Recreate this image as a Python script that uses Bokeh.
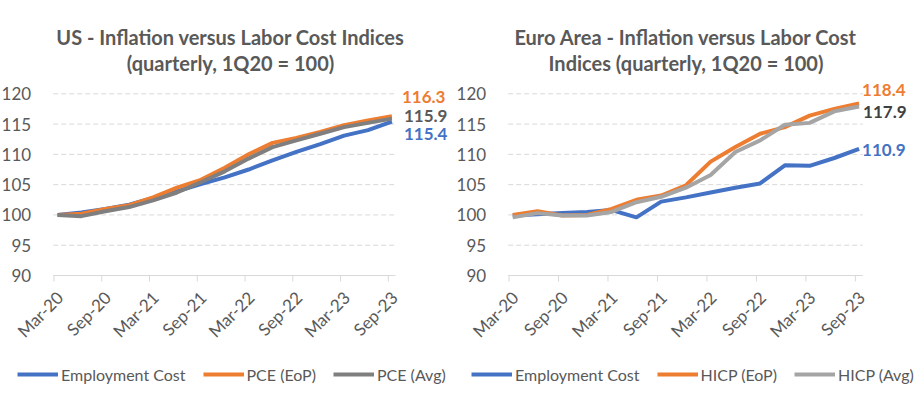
import math
from bokeh.plotting import figure
from bokeh.models import Range1d, FixedTicker, Label, Legend, LegendItem
from bokeh.layouts import row
from bokeh.embed import file_html
from bokeh.resources import INLINE

# ---------------- data ----------------
quarters = ["Mar-20", "Jun-20", "Sep-20", "Dec-20", "Mar-21", "Jun-21", "Sep-21", "Dec-21",
            "Mar-22", "Jun-22", "Sep-22", "Dec-22", "Mar-23", "Jun-23", "Sep-23"]
tick_labels = ["Mar-20", "Sep-20", "Mar-21", "Sep-21", "Mar-22", "Sep-22", "Mar-23", "Sep-23"]
y_ticks = [90, 95, 100, 105, 110, 115, 120]

us_employment_cost = [100.0, 100.4, 101.0, 101.7, 102.8, 103.9, 105.1, 106.2, 107.5, 109.0,
                      110.4, 111.7, 113.1, 114.0, 115.4]
us_pce_eop = [100.0, 100.2, 101.0, 101.6, 102.9, 104.5, 105.8, 107.8, 110.0, 111.9,
              112.7, 113.7, 114.8, 115.6, 116.3]
us_pce_avg = [100.0, 99.8, 100.6, 101.3, 102.4, 103.7, 105.4, 107.2, 109.3, 111.2,
              112.3, 113.4, 114.5, 115.2, 115.9]

ea_employment_cost = [99.9, 100.1, 100.3, 100.5, 100.8, 99.6, 102.2, 102.9, 103.7, 104.5,
                      105.2, 108.2, 108.1, 109.4, 110.9]
ea_hicp_eop = [100.0, 100.6, 99.9, 100.0, 101.0, 102.5, 103.2, 104.9, 108.8, 111.2,
               113.4, 114.5, 116.4, 117.5, 118.4]
ea_hicp_avg = [99.6, 100.3, 99.9, 99.9, 100.5, 102.1, 103.0, 104.5, 106.6, 110.4,
               112.3, 114.9, 115.2, 117.1, 117.9]

BLUE = "#4472C4"
ORANGE = "#ED7D31"
GRAY_DARK = "#7F7F7F"
GRAY_LIGHT = "#A5A5A5"
TEXT = "#595959"
GRID = "#D9D9D9"
FONT = "Lato"

HEIGHT = 398
PAGE_TOP = 0
AXIS_TOP_PAGE = 93.3      # page y of the 120 line
AXIS_BOTTOM_PAGE = 275.0  # page y of the 90 line
TICK_LEN_PX = 6
LABEL_SHIFT = 0.75        # rotated tick labels sit slightly right of their tick


def make_panel(fig_left_page, width, axis_start_page, axis_end_page, title1, title2,
               title_cx_page, series, end_offsets, legend_left_page):
    ax0 = -0.1                      # x value at the start of the category axis
    axis_end = 42.9                 # x value at the end of the category axis
    ppx = (axis_end_page - axis_start_page) / (axis_end - ax0)
    ppy = (AXIS_BOTTOM_PAGE - AXIS_TOP_PAGE) / (y_ticks[-1] - y_ticks[0])

    def xp(page_x):
        return ax0 + (page_x - axis_start_page) / ppx

    def yp(page_y):
        return y_ticks[-1] - (page_y - AXIS_TOP_PAGE) / ppy

    x_lo, x_hi = xp(fig_left_page), xp(fig_left_page + width)
    y_hi, y_lo = yp(PAGE_TOP), yp(PAGE_TOP + HEIGHT)

    p = figure(width=width, height=HEIGHT, output_backend="svg", toolbar_location=None,
               x_range=Range1d(x_lo, x_hi), y_range=Range1d(y_lo, y_hi), title=None,
               min_border_left=0, min_border_right=0, min_border_top=0, min_border_bottom=0)
    p.outline_line_color = None
    p.background_fill_color = "white"
    p.border_fill_color = "white"

    # x axis: line and tick marks, then the rotated labels
    tick_pos = [quarters.index(t) * 3 for t in tick_labels]
    base = y_ticks[0]
    p.segment(x0=[ax0], y0=[base], x1=[axis_end], y1=[base], line_color=GRID, line_width=1)
    p.segment(x0=tick_pos, y0=[base] * len(tick_pos), x1=tick_pos,
              y1=[base - TICK_LEN_PX / ppy] * len(tick_pos), line_color=GRID, line_width=1)

    lab_pos = [t + LABEL_SHIFT for t in tick_pos]
    p.xaxis.fixed_location = base
    p.xaxis.ticker = FixedTicker(ticks=lab_pos)
    p.xaxis.major_label_overrides = {lp: lab for lp, lab in zip(lab_pos, tick_labels)}
    p.xaxis.major_label_orientation = math.pi / 4
    p.xaxis.axis_line_color = None
    p.xaxis.major_tick_line_color = None
    p.xaxis.minor_tick_line_color = None
    p.xaxis.major_label_text_font = FONT
    p.xaxis.major_label_text_font_size = "17px"
    p.xaxis.major_label_text_color = TEXT
    p.xaxis.major_label_standoff = 13

    # y axis
    p.yaxis.fixed_location = ax0
    p.yaxis.ticker = FixedTicker(ticks=y_ticks)
    p.yaxis.axis_line_color = None
    p.yaxis.major_tick_line_color = None
    p.yaxis.minor_tick_line_color = None
    p.yaxis.major_label_text_font = FONT
    p.yaxis.major_label_text_font_size = "17px"
    p.yaxis.major_label_text_color = TEXT
    p.yaxis.major_label_standoff = 16

    p.xgrid.grid_line_color = None
    p.ygrid.grid_line_color = None
    gy = y_ticks[1:]
    p.segment(x0=[ax0] * len(gy), y0=gy, x1=[axis_end] * len(gy), y1=gy,
              line_color=GRID, line_width=1, line_dash="5 3")

    xs = [quarters.index(q) * 3 + 0.45 for q in quarters]
    items = []
    for (name, vals, color, lab_color), off in zip(series, end_offsets):
        r = p.line(xs, vals, line_color=color, line_width=4, line_join="round")
        items.append(LegendItem(label=name, renderers=[r]))
        p.add_layout(Label(x=xs[-1], y=vals[-1], text=f"{vals[-1]:.1f}",
                           x_offset=off[0], y_offset=off[1],
                           text_font=FONT, text_font_size="17px", text_font_style="bold",
                           text_color=lab_color, text_baseline="middle", text_align="left"))

    # two-line title
    for txt, base_page in ((title1, 36), (title2, 62)):
        p.add_layout(Label(x=xp(title_cx_page), y=yp(base_page), text=txt, text_font=FONT,
                           text_font_size="20px", text_font_style="bold", text_color=TEXT,
                           text_align="center", text_baseline="alphabetic"))

    legend = Legend(items=items, orientation="horizontal",
                    location=(legend_left_page - fig_left_page, 14),
                    glyph_width=41, glyph_height=20, label_height=20, label_standoff=3,
                    spacing=17, padding=0, margin=0, border_line_color=None,
                    background_fill_alpha=0, label_text_font=FONT,
                    label_text_font_size="16px", label_text_color=TEXT)
    p.add_layout(legend)
    return p


us = make_panel(0, 455, 52.7, 395.0,
                "US - Inflation versus Labor Cost Indices", "(quarterly, 1Q20 = 100)", 230,
                [("Employment Cost", us_employment_cost, BLUE, BLUE),
                 ("PCE (EoP)", us_pce_eop, ORANGE, ORANGE),
                 ("PCE (Avg)", us_pce_avg, GRAY_DARK, TEXT)],
                [(12, -12), (10, 19), (12, 3)], 17)

ea = make_panel(455, 461, 507.7, 862.3,
                "Euro Area - Inflation versus Labor Cost", "Indices (quarterly, 1Q20 = 100)", 685.5,
                [("Employment Cost", ea_employment_cost, BLUE, BLUE),
                 ("HICP (EoP)", ea_hicp_eop, ORANGE, ORANGE),
                 ("HICP (Avg)", ea_hicp_avg, GRAY_LIGHT, "#404040")],
                [(3, -1), (3, 13), (4, -5)], 471)

layout = row(us, ea)
open("out.html", "w").write(file_html(layout, INLINE))
